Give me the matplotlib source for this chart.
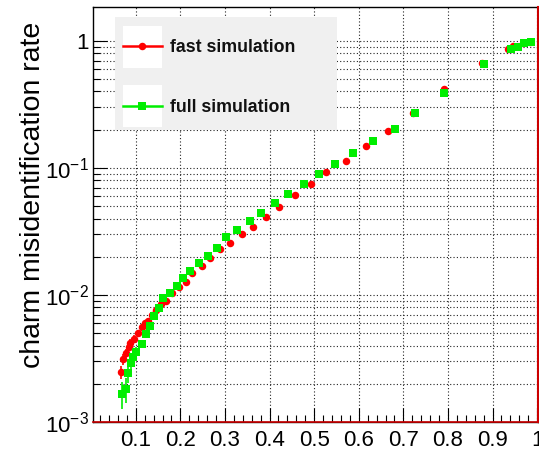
import matplotlib
matplotlib.use("Agg")
import matplotlib.pyplot as plt
from matplotlib.ticker import FixedLocator, MultipleLocator, LogLocator, NullFormatter
from matplotlib.patches import Rectangle
from matplotlib.lines import Line2D

plt.rcParams['font.family'] = ['Liberation Sans', 'DejaVu Sans']
plt.rcParams['mathtext.fontset'] = 'custom'
plt.rcParams['mathtext.rm'] = 'Liberation Sans'
plt.rcParams['mathtext.it'] = 'Liberation Sans:italic'
plt.rcParams['mathtext.bf'] = 'Liberation Sans:bold'

# ---- data ----
fast_x = [0.067, 0.0715, 0.078, 0.085, 0.087, 0.096, 0.105, 0.114, 0.121, 0.128,
          0.137, 0.146, 0.157, 0.168, 0.181, 0.197, 0.213, 0.226, 0.249, 0.267,
          0.289, 0.312, 0.338, 0.363, 0.392, 0.421, 0.457, 0.493, 0.527, 0.572,
          0.617, 0.666, 0.722, 0.791, 0.877, 0.935, 0.946, 0.969, 0.984]
fast_y = [0.00248, 0.00313, 0.00349, 0.0039, 0.00419, 0.00451, 0.00503, 0.0056, 0.00602, 0.00624,
          0.00696, 0.00762, 0.0085, 0.00897, 0.01038, 0.01156, 0.01265, 0.0149, 0.0169, 0.0195,
          0.0230, 0.0257, 0.0302, 0.0343, 0.0411, 0.0493, 0.0613, 0.0748, 0.0931, 0.1135,
          0.149, 0.1954, 0.271, 0.419, 0.671, 0.865, 0.913, 0.964, 0.982]
fast_err = [0.0003, 0.0003, 0.0003, 0.0003, 0.0003, 0.0003, 0.0003, 0.0003, 0.0003, 0.0003,
            0.0003, 0.0003, 0.0003, 0.0003, 0.0003, 0.0003, 0.0003, 0.0003, 0.0003, 0.0003,
            0, 0, 0, 0, 0, 0, 0, 0, 0, 0,
            0, 0, 0, 0, 0, 0, 0, 0, 0]

full_x = [0.069, 0.078, 0.083, 0.089, 0.094, 0.101, 0.114, 0.123, 0.132, 0.141,
          0.152, 0.161, 0.177, 0.193, 0.206, 0.222, 0.242, 0.262, 0.282, 0.303,
          0.327, 0.356, 0.381, 0.412, 0.442, 0.477, 0.511, 0.547, 0.587, 0.632,
          0.681, 0.726, 0.791, 0.881, 0.942, 0.957, 0.971, 0.987]
full_y = [0.00166, 0.00182, 0.00243, 0.00292, 0.00325, 0.00356, 0.00411, 0.00493, 0.0057, 0.00684,
          0.00791, 0.00947, 0.01037, 0.01177, 0.0136, 0.01545, 0.01786, 0.0203, 0.0234, 0.0286,
          0.0325, 0.0383, 0.0443, 0.053, 0.0624, 0.0748, 0.0897, 0.1075, 0.1313, 0.1633,
          0.203, 0.271, 0.390, 0.659, 0.865, 0.897, 0.964, 0.982]
full_err = [0.0004, 0.0004, 0.0004, 0.0004, 0.0003, 0.0003, 0.0003, 0.0003, 0.0003, 0.0003,
            0.0003, 0.0003, 0.0003, 0.0003, 0.0003, 0.0003, 0, 0, 0, 0,
            0, 0, 0, 0, 0, 0, 0, 0, 0, 0,
            0, 0, 0, 0, 0, 0, 0, 0]

x_ticks = [0.1, 0.2, 0.3, 0.4, 0.5, 0.6, 0.7, 0.8, 0.9, 1.0]
x_ticklabels = ["0.1", "0.2", "0.3", "0.4", "0.5", "0.6", "0.7", "0.8", "0.9", "1"]
y_ticks = [1e-3, 1e-2, 1e-1, 1.0]
y_ticklabels = [r"$10^{-3}$", r"$10^{-2}$", r"$10^{-1}$", "1"]
series_labels = ["fast simulation", "full simulation"]
ylabel = "charm misidentification rate"

W, H = 539, 451
fig = plt.figure(figsize=(W / 100, H / 100), dpi=100)
ax = fig.add_axes([93 / W, (H - 422) / H, 445 / W, 415 / H])

ax.set_yscale('log')
ax.set_xlim(0.004, 1.002)
ax.set_ylim(1e-3, 1.85)

ax.xaxis.set_major_locator(FixedLocator(x_ticks))
ax.xaxis.set_minor_locator(MultipleLocator(0.02))
ax.yaxis.set_major_locator(FixedLocator(y_ticks))
ax.yaxis.set_minor_locator(LogLocator(base=10, subs=range(2, 10)))
ax.yaxis.set_minor_formatter(NullFormatter())
ax.set_xticklabels(x_ticklabels)
ax.set_yticklabels(y_ticklabels)

gkw = dict(color='#222222', linestyle=(0, (1, 2)), linewidth=0.8)
ax.grid(True, which='major', axis='both', **gkw)
ax.grid(True, which='minor', axis='y', **gkw)
ax.set_axisbelow(True)

ax.tick_params(axis='both', which='major', direction='in', length=10, width=0.8,
               labelsize=16, top=False, right=False)
ax.tick_params(axis='both', which='minor', direction='in', length=5, width=0.8,
               top=False, right=False)
ax.tick_params(axis='x', which='major', pad=6)
ax.tick_params(axis='y', which='major', pad=3)

for s in ax.spines.values():
    s.set_linewidth(1.0)
    s.set_color('black')

# data
ax.errorbar(fast_x, fast_y, yerr=fast_err, fmt='o', color='#ff0000', ms=5.4,
            mew=0, elinewidth=1.2, capsize=0, zorder=3)
ax.errorbar(full_x, full_y, yerr=full_err, fmt='s', color='#00ee00', ms=5.8,
            mew=0, elinewidth=1.2, capsize=0, zorder=4)

# red frame lines (bottom and right)
ax.axhline(1e-3, color='#cc0000', lw=1.2, zorder=5, clip_on=False)
ax.axvline(1.002, color='#cc0000', lw=1.5, zorder=5, clip_on=False)

# y label
fig.text(33 / W, 1 - 195 / H, ylabel, rotation=90, ha='center', va='center', fontsize=20.5)

# legend (manual ROOT-like)
lax = fig.add_axes([115 / W, (H - 130) / H, 222 / W, 113 / H])
lax.set_xlim(115, 337)
lax.set_ylim(130, 17)
lax.set_facecolor('#f0f0f0')
for s in lax.spines.values():
    s.set_visible(False)
lax.set_xticks([])
lax.set_yticks([])
entries = [(series_labels[0], '#ff0000', 'o', 5.4, 26, 68, 46.5),
           (series_labels[1], '#00ee00', 's', 5.8, 85, 127, 106.5)]
for label, col, mk, ms, y0, y1, yl in entries:
    lax.add_patch(Rectangle((123, y0), 39, y1 - y0, facecolor='white', edgecolor='none'))
    lax.add_line(Line2D([123, 162], [yl, yl], color=col, lw=1.8))
    lax.add_line(Line2D([142], [yl], marker=mk, color=col, ms=ms, mew=0))
    lax.text(170, yl + 1, label, fontsize=12.8, fontweight='bold', va='center', ha='left',
             color='#111111')

fig.savefig("out.png", dpi=100)
